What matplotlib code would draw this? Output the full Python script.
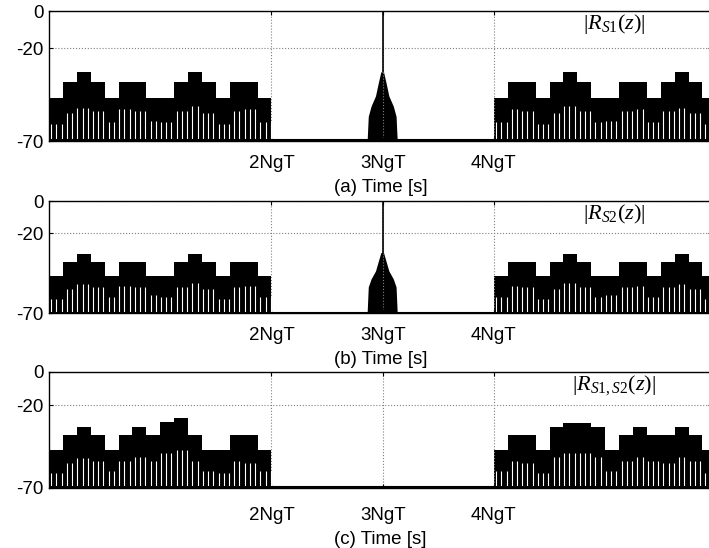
import numpy as np
import matplotlib
matplotlib.use("Agg")
import matplotlib.pyplot as plt

plt.rcParams["font.family"] = ["Liberation Sans", "DejaVu Sans"]
plt.rcParams["axes.unicode_minus"] = False
plt.rcParams["mathtext.fontset"] = "custom"
plt.rcParams["mathtext.it"] = "Liberation Serif:italic"
plt.rcParams["mathtext.rm"] = "Liberation Serif"

# Envelope levels (dB) of the 16 blocks on each side, one block = NgT/8
a_left_top = [-47, -38, -33, -38, -47, -38, -38, -47, -47, -38, -33, -38, -47, -38, -38, -47]
a_right_top = [-47, -38, -38, -47, -38, -33, -38, -47, -47, -38, -38, -47, -38, -33, -38, -47]
b_left_top = [-47, -38, -33, -38, -47, -38, -38, -47, -47, -38, -33, -38, -47, -38, -38, -47]
b_right_top = [-47, -38, -38, -47, -38, -33, -38, -47, -47, -38, -38, -47, -38, -33, -38, -47]
c_left_top = [-47, -38, -33, -38, -47, -38, -33, -38, -30, -28, -38, -47, -47, -38, -38, -47]
c_right_top = [-47, -38, -38, -47, -33, -31, -31, -33, -47, -38, -33, -38, -38, -33, -38, -47]

# Depth of the sample dips (dB) in each block
a_left_dip = [-61, -55, -52, -54, -60, -53, -54, -59, -60, -54, -51, -55, -61, -54, -53, -60]
a_right_dip = [-60, -53, -54, -61, -55, -51, -54, -60, -59, -54, -53, -60, -54, -52, -55, -61]
b_left_dip = a_left_dip
b_right_dip = a_right_dip
c_left_dip = [-61, -55, -52, -54, -60, -54, -51, -54, -49, -47, -54, -60, -61, -54, -55, -60]
c_right_dip = [-60, -54, -55, -61, -51, -49, -49, -51, -60, -54, -51, -54, -55, -51, -54, -61]

# Main lobe around 3NgT: offset from centre (NgT) and level (dB)
lobe_offset = [0.135, 0.125, 0.10, 0.06, 0.035, 0.012]
a_lobe_level = [-70, -57, -51.5, -46, -39, -33]
b_lobe_level = [-70, -54, -49, -44, -38, -32.5]

panels = [
    ("(a) Time [s]", r"$|R_{\mathit{S1}}(z)|$", a_left_top, a_right_top, a_left_dip, a_right_dip, a_lobe_level),
    ("(b) Time [s]", r"$|R_{\mathit{S2}}(z)|$", b_left_top, b_right_top, b_left_dip, b_right_dip, b_lobe_level),
    ("(c) Time [s]", r"$|R_{\mathit{S1,S2}}(z)|$", c_left_top, c_right_top, c_left_dip, c_right_dip, None),
]

# axes boxes in figure fraction [left, bottom, width, height] and x tick pad
boxes = [
    ([0.0691, 0.7427, 0.935, 0.2372], 10),
    ([0.0691, 0.4288, 0.935, 0.2044], 10),
    ([0.0691, 0.1095, 0.935, 0.2117], 14),
]

fig = plt.figure(figsize=(7.09, 5.48), dpi=100)
blk = 0.125
edges = np.arange(17) * blk
gaps = np.arange(0.02, 2.0, 0.047)

for (xlab, name, ltop, rtop, ldip, rdip, lobe), (box, xpad) in zip(panels, boxes):
    ax = fig.add_axes(box)
    for start, top, dip in [(0.0, ltop, ldip), (4.0, rtop, rdip)]:
        ax.stairs(top, start + edges, baseline=-70, fill=True, color="black", lw=0)
        idx = np.minimum((gaps / blk).astype(int), 15)
        ax.vlines(start + gaps, -70, np.array(dip)[idx], color="white", lw=0.8)
    if lobe is not None:
        off = np.array(lobe_offset)
        xs = np.concatenate([3 - off, (3 + off)[::-1]])
        ys = np.concatenate([lobe, lobe[::-1]])
        ax.fill(xs, ys, color="black", lw=0)
        ax.vlines(3.0, -33, 0, color="black", lw=1.2)
    ax.plot([0, 6], [-69.7, -69.7], color="black", lw=1.5)

    ax.set_xlim(0, 5.96)
    ax.set_ylim(-70, 0)
    ax.set_yticks([0, -20, -70])
    ax.set_xticks([2, 3, 4])
    ax.set_xticklabels(["2NgT", "3NgT", "4NgT"])
    ax.tick_params(direction="in", length=3, top=True, right=True, labelsize=13.5)
    ax.tick_params(axis="x", pad=xpad)
    ax.tick_params(axis="y", pad=4)
    ax.grid(True, linestyle=":", color="#808080", lw=0.8)
    ax.set_xlabel(xlab, fontsize=13.5, labelpad=5)
    for s in ax.spines.values():
        s.set_linewidth(1.0)
    ax.text(0.853, 0.99, name, transform=ax.transAxes, fontsize=16, ha="center", va="top")

fig.savefig("out.png", dpi=100)
